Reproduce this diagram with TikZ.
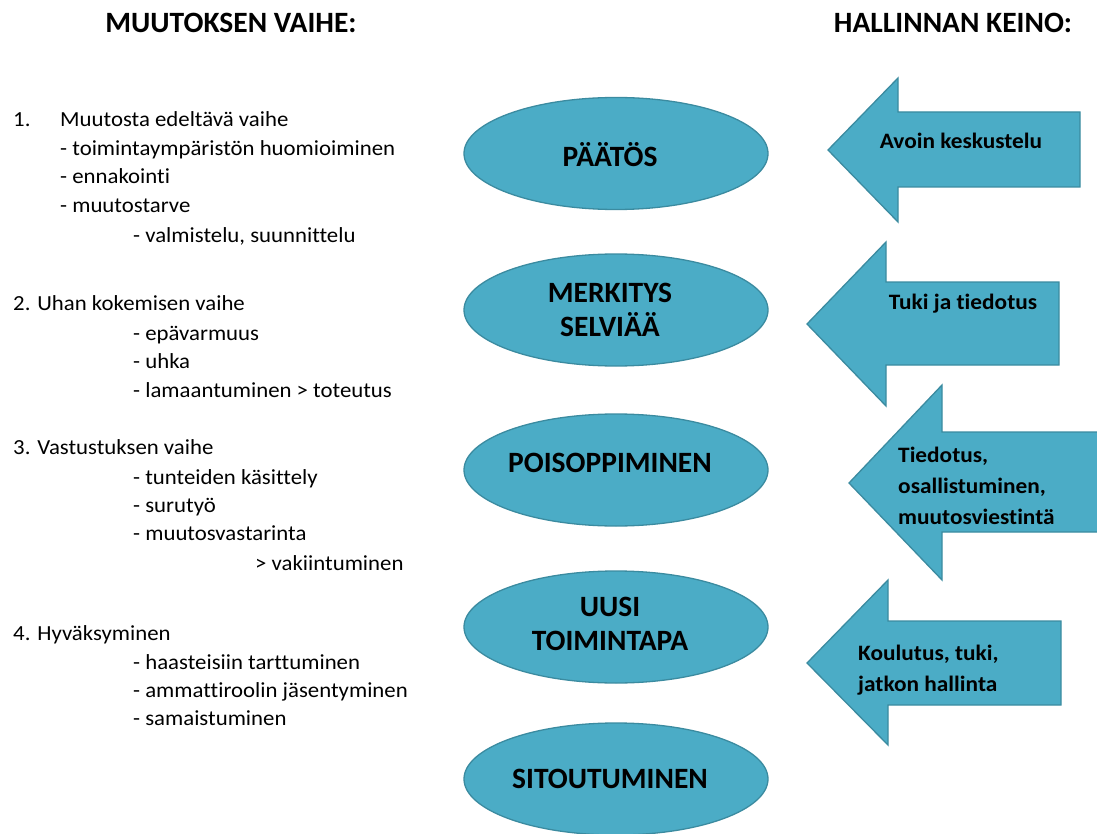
\documentclass[tikz,border=0pt]{standalone}
\usepackage{fontspec}
\setmainfont{Carlito}[Ligatures=NoCommon]
\newfontfamily\widefont{Carlito}[Ligatures=NoCommon, FakeStretch=1.06]
\usetikzlibrary{shapes.geometric}
\definecolor{tealfill}{HTML}{4BACC6}
\definecolor{tealline}{HTML}{3B8BA0}
\tikzset{
  phase/.style={ellipse, draw=tealline, line width=1.3pt, fill=tealfill,
    minimum width=304pt, minimum height=112pt, inner sep=0pt},
  phasetext/.style={font=\fontsize{29.5}{34.5}\selectfont\bfseries, align=center, text=black, inner sep=0pt},
  bigarrow/.style={draw=tealline, line width=1.3pt, fill=tealfill, line join=miter},
  arrowtext/.style={font=\widefont\fontsize{22}{31}\selectfont\bfseries, align=left, inner sep=0pt, text=black},
  header/.style={font=\fontsize{29.5}{34}\selectfont\bfseries, inner sep=0pt},
  item/.style={font=\widefont\fontsize{21.5}{24}\selectfont, anchor=base west, inner sep=0pt}
}
\begin{document}
\begin{tikzpicture}[x=1pt,y=-1pt]
\useasboundingbox (0,0) rectangle (1097,834);

% headers
\node[header] (h1) at (231,22.5) {MUUTOKSEN VAIHE:};
\node[header] (h2) at (953,22.5) {HALLINNAN KEINO:};

% left list
\node[item] (l1n) at (13,127) {1.};
\node[item] (l1) at (60,127) {Muutosta edeltävä vaihe};
\node[item] (l1a) at (60,156) {- toimintaympäristön huomioiminen};
\node[item] (l1b) at (60,184) {- ennakointi};
\node[item] (l1c) at (60,213) {- muutostarve};
\node[item] (l1d) at (133,243) {- valmistelu, suunnittelu};

\node[item] (l2) at (13,310) {2. Uhan kokemisen vaihe};
\node[item] (l2a) at (133,340) {- epävarmuus};
\node[item] (l2b) at (133,368) {- uhka};
\node[item] (l2c) at (133,397) {- lamaantuminen > toteutus};

\node[item] (l3) at (13,454) {3. Vastustuksen vaihe};
\node[item] (l3a) at (133,484) {- tunteiden käsittely};
\node[item] (l3b) at (133,512) {- surutyö};
\node[item] (l3c) at (133,540) {- muutosvastarinta};
\node[item] (l3d) at (255,570) {> vakiintuminen};

\node[item] (l4) at (13,640) {4. Hyväksyminen};
\node[item] (l4a) at (133,669) {- haasteisiin tarttuminen};
\node[item] (l4b) at (133,697) {- ammattiroolin jäsentyminen};
\node[item] (l4c) at (133,725) {- samaistuminen};

% ellipses
\node[phase] (e1) at (616,153.5) {};
\node[phase] (e2) at (616,310) {};
\node[phase] (e3) at (616,470) {};
\node[phase] (e4) at (616,627) {};
\node[phase] (e5) at (616,779) {};
\node[phasetext] (p1) at ([xshift=-6pt,yshift=-1pt]e1.center) {PÄÄTÖS};
\node[phasetext] (p2) at ([xshift=-6pt]e2.center) {MERKITYS\\SELVIÄÄ};
\node[phasetext] (p3) at ([xshift=-6pt,yshift=7pt]e3.center) {POISOPPIMINEN};
\node[phasetext] (p4) at ([xshift=-6pt,yshift=3pt]e4.center) {UUSI\\TOIMINTAPA};
\node[phasetext] (p5) at ([xshift=-6pt]e5.center) {SITOUTUMINEN};

% arrows
\draw[bigarrow] (828,150) -- (898,78) -- (898,112) -- (1080,112) -- (1080,187) -- (898,187) -- (898,222) -- cycle;
\draw[bigarrow] (807,324) -- (886,242) -- (886,282) -- (1059,282) -- (1059,365) -- (886,365) -- (886,406) -- cycle;
\draw[bigarrow] (849,483) -- (942,385) -- (942,432) -- (1105,432) -- (1105,532) -- (942,532) -- (942,580) -- cycle;
\draw[bigarrow] (807,663) -- (888,580) -- (888,621) -- (1061,621) -- (1061,705) -- (888,705) -- (888,745) -- cycle;

% arrow texts
\node[arrowtext] (t1) at (961,141) {Avoin keskustelu};
\node[arrowtext] (t2) at (963,304) {Tuki ja tiedotus};
\node[arrowtext, anchor=west] (t3) at (898,486) {Tiedotus,\\osallistuminen,\\muutosviestintä};
\node[arrowtext, anchor=west] (t4) at (858,670) {Koulutus, tuki,\\jatkon hallinta};
\end{tikzpicture}
\end{document}
